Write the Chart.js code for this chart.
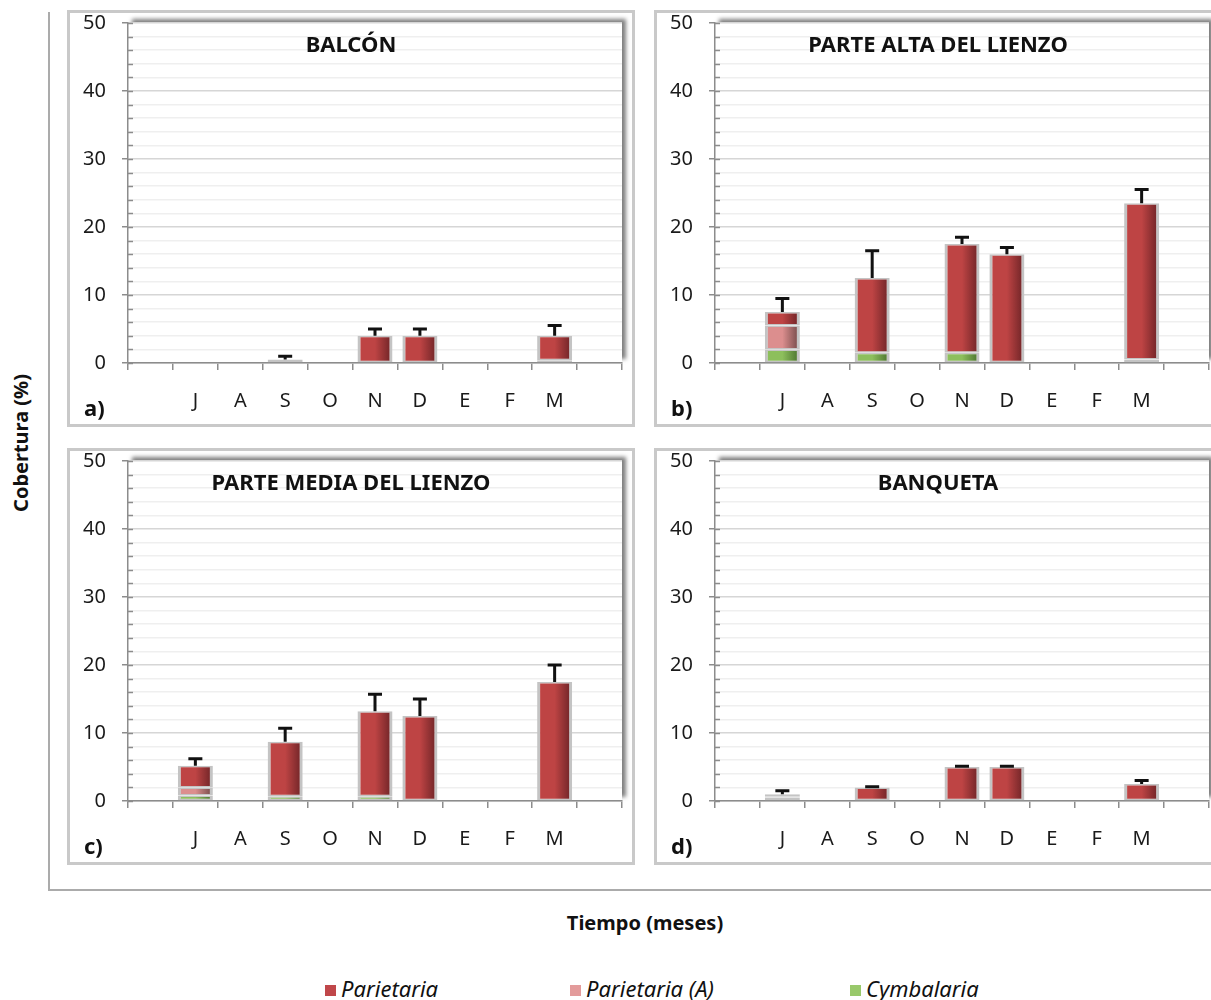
<!DOCTYPE html>
<html lang="es">
<head>
<meta charset="UTF-8">
<title>Cobertura (%)</title>
<style>
  html, body { margin: 0; padding: 0; background: #fff; }
  body { width: 1211px; height: 1000px; overflow: hidden; position: relative; font-family: "Noto Sans", sans-serif; color: #111; }
  .frame { position: absolute; left: 48px; top: 12px; width: 1200px; height: 877px; border-left: 2px solid #ababab; border-bottom: 2px solid #ababab; }
  .panel { position: absolute; width: 568px; height: 417px; border: 3px solid #c9c9c9; box-sizing: border-box; }
  .panel canvas { position: absolute; left: 0; top: 0; }
  #ytitle { position: absolute; left: 20px; top: 443px; transform: translate(-50%, -50%) rotate(-90deg); font-weight: bold; font-size: 20px; white-space: nowrap; }
  #xtitle { position: absolute; left: 645px; top: 922px; transform: translate(-50%, -50%); font-weight: bold; font-size: 20px; white-space: nowrap; }
  .key { position: absolute; top: 974px; font-style: italic; font-size: 22px; white-space: nowrap; line-height: 28px; }
  .key i { display: inline-block; width: 11px; height: 11px; margin-right: 5px; vertical-align: 1px; }
</style>
</head>
<body>
  <div class="frame"></div>

  <div class="panel" style="left:67px; top:10px;"><canvas id="chartA" width="562" height="411"></canvas></div>
  <div class="panel" style="left:654px; top:10px;"><canvas id="chartB" width="562" height="411"></canvas></div>
  <div class="panel" style="left:67px; top:448px;"><canvas id="chartC" width="562" height="411"></canvas></div>
  <div class="panel" style="left:654px; top:448px;"><canvas id="chartD" width="562" height="411"></canvas></div>

  <div id="ytitle">Cobertura (%)</div>
  <div id="xtitle">Tiempo (meses)</div>

  <div class="key" style="left:325px;"><i style="background:#c0474a"></i>Parietaria</div>
  <div class="key" style="left:570px;"><i style="background:#e39b9b"></i>Parietaria (A)</div>
  <div class="key" style="left:850px;"><i style="background:#99c96b"></i>Cymbalaria</div>

  <script src="https://cdn.jsdelivr.net/npm/chart.js"></script>
  <script>
    // meses de muestreo (julio a marzo)
    const months = ["J", "A", "S", "O", "N", "D", "E", "F", "M"];
    const yTicks = [0, 10, 20, 30, 40, 50];
    const panelTitles = ["BALCÓN", "PARTE ALTA DEL LIENZO", "PARTE MEDIA DEL LIENZO", "BANQUETA"];
    const panelLetters = ["a)", "b)", "c)", "d)"];

    // a) Balcón
    const balconPar  = [0, 0, 0.5, 0, 4.0, 4.0, 0, 0, 3.6];
    const balconParA = [0, 0, 0, 0, 0, 0, 0, 0, 0];
    const balconCym  = [0, 0, 0, 0, 0, 0, 0, 0, 0.4];
    const balconErr  = [0, 0, 0.5, 0, 1.0, 1.0, 0, 0, 1.5];

    // b) Parte alta del lienzo
    const altaPar  = [2.0, 0, 11.0, 0, 16.0, 16.0, 0, 0, 23.0];
    const altaParA = [3.5, 0, 0, 0, 0, 0, 0, 0, 0];
    const altaCym  = [2.0, 0, 1.5, 0, 1.5, 0, 0, 0, 0.5];
    const altaErr  = [2.0, 0, 4.0, 0, 1.0, 1.0, 0, 0, 2.0];

    // c) Parte media del lienzo
    const mediaPar  = [3.2, 0, 8.0, 0, 12.5, 12.5, 0, 0, 17.5];
    const mediaParA = [1.2, 0, 0, 0, 0, 0, 0, 0, 0];
    const mediaCym  = [0.8, 0, 0.7, 0, 0.7, 0, 0, 0, 0];
    const mediaErr  = [1.0, 0, 2.0, 0, 2.5, 2.5, 0, 0, 2.5];

    // d) Banqueta
    const banqPar  = [0.3, 0, 2.0, 0, 5.0, 5.0, 0, 0, 2.5];
    const banqParA = [0.2, 0, 0, 0, 0, 0, 0, 0, 0];
    const banqCym  = [0.5, 0, 0, 0, 0, 0, 0, 0, 0];
    const banqErr  = [0.5, 0, 0.1, 0, 0.1, 0.1, 0, 0, 0.5];

    Chart.defaults.font.family = '"Noto Sans", sans-serif';
    Chart.defaults.color = "#111";

    const AXIS = "#8c8c8c";
    const BAR_PCT = 0.78;

    // empty slot on each side of the months, zero -> no bar
    const pad = arr => [null, ...arr.map(v => (v ? v : null)), null];
    const labels = ["", ...months, ""];

    // horizontal shading inside each bar
    function barFill(light, dark) {
      return (ctx) => {
        const chart = ctx.chart;
        const x = chart.scales.x;
        if (!x || ctx.type !== "data") return light;
        const cx = x.getPixelForValue(ctx.dataIndex);
        const half = x.width / labels.length * BAR_PCT / 2;
        if (!isFinite(cx) || !isFinite(half) || half <= 0) return light;
        const g = chart.ctx.createLinearGradient(cx - half, 0, cx + half, 0);
        g.addColorStop(0, light);
        g.addColorStop(0.5, light);
        g.addColorStop(1, dark);
        return g;
      };
    }

    const errorBars = {
      id: "errorBars",
      afterDatasetsDraw(chart, args, opts) {
        const { ctx, scales: { x, y } } = chart;
        ctx.save();
        ctx.strokeStyle = "#111";
        ctx.lineWidth = 3;
        opts.values.forEach((e, i) => {
          if (e == null) return;
          let total = 0;
          chart.data.datasets.forEach(ds => { total += ds.data[i] || 0; });
          const px = x.getPixelForValue(i);
          const y0 = y.getPixelForValue(total);
          const y1 = y.getPixelForValue(total + e);
          ctx.beginPath();
          ctx.moveTo(px, y0);
          ctx.lineTo(px, y1);
          ctx.moveTo(px - 7, y1);
          ctx.lineTo(px + 7, y1);
          ctx.stroke();
        });
        ctx.restore();
      }
    };

    const panelDeco = {
      id: "panelDeco",
      beforeDraw(chart) {
        // plot area with a soft shadow up and to the right
        const { ctx, chartArea: a } = chart;
        ctx.save();
        ctx.shadowColor = "rgba(0,0,0,0.5)";
        ctx.shadowBlur = 4;
        ctx.shadowOffsetX = 4;
        ctx.shadowOffsetY = -4;
        ctx.fillStyle = "#fff";
        ctx.fillRect(a.left, a.top, a.width, a.height);
        ctx.restore();
      },
      beforeDatasetsDraw(chart) {
        // minor ticks on the inner side of the value axis
        const { ctx, chartArea: a, scales: { y } } = chart;
        ctx.save();
        ctx.strokeStyle = AXIS;
        ctx.lineWidth = 1.5;
        y.ticks.forEach(t => {
          const py = Math.round(y.getPixelForValue(t.value)) + 0.5;
          ctx.beginPath();
          ctx.moveTo(a.left, py);
          ctx.lineTo(a.left + 5, py);
          ctx.stroke();
        });
        ctx.restore();
      },
      afterDraw(chart, args, opts) {
        const { ctx } = chart;
        ctx.save();
        ctx.fillStyle = "#111";
        ctx.font = 'bold 22px "Noto Sans", sans-serif';
        ctx.textAlign = "center";
        ctx.textBaseline = "middle";
        ctx.fillText(opts.title, chart.width / 2, 33);
        ctx.textAlign = "left";
        ctx.fillText(opts.letter, 14, 397);
        ctx.restore();
      }
    };

    function makePanel(id, k, par, parA, cym, err) {
      new Chart(document.getElementById(id), {
        type: "bar",
        data: {
          labels: labels,
          datasets: [
            { label: "Cymbalaria", data: pad(cym), backgroundColor: barFill("#8dbf5c", "#476e2c") },
            { label: "Parietaria (A)", data: pad(parA), backgroundColor: barFill("#dc8e8e", "#6e4645") },
            { label: "Parietaria", data: pad(par), backgroundColor: barFill("#be4444", "#6a2225") }
          ].map(ds => Object.assign(ds, {
            borderColor: "#c4c4c4",
            borderWidth: { top: 1.5, bottom: 1.5, left: 3, right: 3 },
            borderSkipped: false,
            barPercentage: BAR_PCT,
            categoryPercentage: 1
          }))
        },
        options: {
          responsive: false,
          animation: false,
          layout: { padding: { top: 10, right: 10, left: 0, bottom: 0 } },
          plugins: {
            legend: { display: false },
            tooltip: { enabled: false },
            errorBars: { values: pad(err) },
            panelDeco: { title: panelTitles[k], letter: panelLetters[k] }
          },
          scales: {
            x: {
              stacked: true,
              border: { color: AXIS, width: 1.5 },
              grid: { drawOnChartArea: false, drawTicks: true, tickLength: 7, color: AXIS, lineWidth: 1.5, offset: true },
              ticks: { color: "#1a1a1a", font: { size: 20 }, padding: 19, autoSkip: false, maxRotation: 0 },
              afterFit: s => { s.height = 61; }
            },
            y: {
              stacked: true,
              min: 0,
              max: 50,
              border: { color: AXIS, width: 1.5 },
              grid: {
                color: c => (yTicks.includes(c.tick.value) ? "#d6d6d6" : "#efefef"),
                lineWidth: 1.5,
                tickLength: 6,
                tickColor: c => (yTicks.includes(c.tick.value) ? AXIS : "rgba(0,0,0,0)")
              },
              ticks: {
                stepSize: 2,
                autoSkip: false,
                padding: 16,
                color: "#1a1a1a",
                font: { size: 20, lineHeight: 1 },
                callback: v => (yTicks.includes(v) ? v : "")
              },
              // fixed axis width; the top label may overhang the plot
              afterFit: s => { s.width = 58; s.paddingTop = 0; s.paddingBottom = 0; }
            }
          }
        },
        plugins: [errorBars, panelDeco]
      });
    }

    makePanel("chartA", 0, balconPar, balconParA, balconCym, balconErr);
    makePanel("chartB", 1, altaPar, altaParA, altaCym, altaErr);
    makePanel("chartC", 2, mediaPar, mediaParA, mediaCym, mediaErr);
    makePanel("chartD", 3, banqPar, banqParA, banqCym, banqErr);
  </script>
</body>
</html>
